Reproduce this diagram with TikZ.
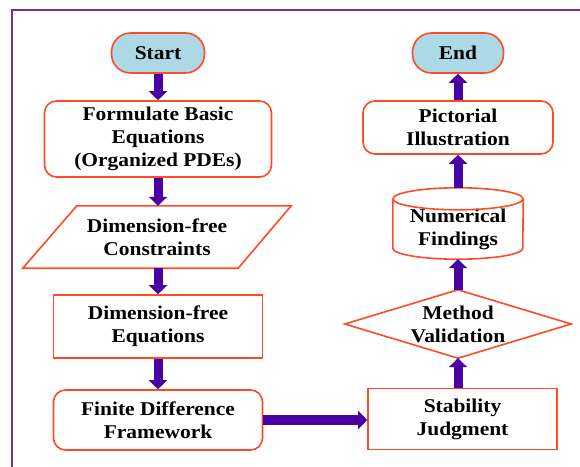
\documentclass[tikz,border=0pt]{standalone}
\usepackage{fontspec}
\setmainfont{Liberation Serif}[FakeStretch=1.1]
\usetikzlibrary{arrows.meta,calc}
\definecolor{bord}{HTML}{FF4A26}
\definecolor{sky}{HTML}{ADD8E6}
\definecolor{arr}{HTML}{4B00A3}
\definecolor{framec}{HTML}{7030A0}
\begin{document}
\begin{tikzpicture}[x=1pt,y=-1pt,
  txt/.style={align=center,font=\fontsize{19.5}{23}\selectfont\bfseries,inner sep=0pt},
  box/.style={txt,draw=bord,line width=1.6pt},
  rbox/.style={box,rounded corners=12pt},
  term/.style={box,rounded corners=19pt,fill=sky},
  outline/.style={draw=bord,line width=1.6pt},
  flow/.style={draw=arr,line width=9pt,-{Triangle[width=18pt,length=9pt]}}]
\useasboundingbox (0,0) rectangle (580,466);
\draw[framec,line width=2pt] (12,467) -- (12,10) -- (581,10);
% left column
\node[term,minimum width=93pt,minimum height=40pt] (start) at (158,53) {Start};
\node[rbox,minimum width=227pt,minimum height=76pt] (form) at (158,139) {Formulate Basic\\Equations\\(Organized PDEs)};
\node[txt,minimum width=268pt,minimum height=62pt] (para) at (157,237) {Dimension-free\\Constraints};
\draw[outline] (para.north east) -- ($(para.south east)+(-53,0)$) -- (para.south west) -- ($(para.north west)+(54,0)$) -- cycle;
\node[box,minimum width=209pt,minimum height=63pt] (eq) at (158,326.5) {Dimension-free\\Equations};
\node[rbox,minimum width=209pt,minimum height=60pt] (fd) at (158,420) {Finite Difference\\Framework};
% right column
\node[box,minimum width=189pt,minimum height=61pt] (stab) at (462.5,419) {Stability\\Judgment};
\node[txt,minimum width=226pt,minimum height=68pt] (dia) at (458,324) {Method\\Validation};
\draw[outline] (dia.west) -- (dia.north) -- (dia.east) -- (dia.south) -- cycle;
\node[txt,minimum width=130pt,minimum height=60pt] (cyl) at (458,229) {Numerical\\Findings};
\draw[outline] (cyl.north) ellipse [x radius=65pt,y radius=11pt];
\draw[outline] (cyl.north west) -- ($(cyl.south west)+(0,-11)$) arc[start angle=180,end angle=360,x radius=65pt,y radius=11pt] -- (cyl.north east);
\node[rbox,minimum width=190pt,minimum height=53pt] (pict) at (458,127.5) {Pictorial\\Illustration};
\node[term,minimum width=91pt,minimum height=40pt] (end) at (458,53) {End};
% connectors
\draw[flow] (start.south) -- (form.north);
\draw[flow] (form.south) -- (form.south |- para.north);
\draw[flow] (para.south -| eq.north) -- (eq.north);
\draw[flow] (eq.south) -- (fd.north);
\draw[flow,line width=10pt] (fd.east) -- (fd.east -| stab.west);
\draw[flow] (stab.north -| dia.south) -- (dia.south);
\draw[flow] (dia.north) -- (cyl.south);
\draw[flow] ($(cyl.north)+(0,-11)$) -- (pict.south);
\draw[flow] (pict.north) -- (end.south);
\end{tikzpicture}
\end{document}
